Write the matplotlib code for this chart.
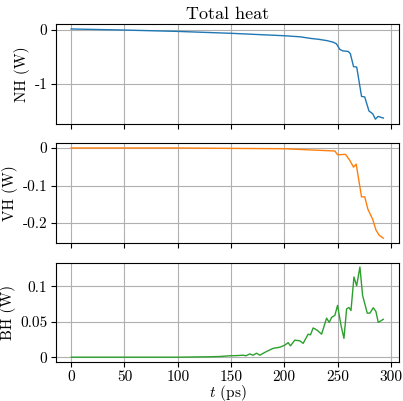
import matplotlib
matplotlib.use('Agg')
import matplotlib.pyplot as plt
from matplotlib.ticker import FuncFormatter

# LaTeX-like look
plt.rcParams['font.family'] = 'serif'
plt.rcParams['font.serif'] = ['cmr10']
plt.rcParams['mathtext.fontset'] = 'cm'
plt.rcParams['axes.unicode_minus'] = False
plt.rcParams['font.size'] = 11

# NH total heat (W)
t_nh = [0, 50, 100, 150, 200, 215, 225, 232, 240, 246, 249, 252, 255, 260, 262,
        265, 268, 272.5, 275.5, 279.5, 283, 285.5, 288, 293]
nh = [0.015, -0.005, -0.03, -0.065, -0.11, -0.13, -0.16, -0.175, -0.20, -0.23, -0.26,
      -0.36, -0.39, -0.40, -0.44, -0.68, -0.69, -1.23, -1.24, -1.50, -1.55, -1.65,
      -1.60, -1.63]

# VH total heat (W)
t_vh = [0, 100, 200, 247.5, 250, 257.5, 261.5, 265, 267.5, 272.5, 275.5, 278.5,
        283, 286, 289, 293]
vh = [0.0, 0.0, -0.002, -0.008, -0.018, -0.017, -0.033, -0.051, -0.043, -0.13,
      -0.13, -0.163, -0.19, -0.218, -0.232, -0.24]

# BH total heat (W)
t_bh = [0, 50, 100, 110, 120, 130, 140, 148.8, 155, 161.4, 164, 167.6, 170.8, 173.9,
        177, 183.3, 189.6, 195.8, 200.5, 203.6, 205.8, 209.9, 214.6, 217.7, 222.4,
        224.6, 227.1, 230.9, 235, 239.7, 242.2, 244.4, 247.5, 250, 253.2, 256, 258.5,
        260.7, 262.6, 265.4, 267.9, 271, 273.5, 277.9, 280.4, 283.5, 286, 288.2, 292.9]
bh = [0.0, 0.0, 0.0, 0.0002, 0.0004, 0.0006, 0.001, 0.002, 0.0022, 0.0028, 0.002,
      0.0046, 0.0028, 0.0056, 0.0028, 0.008, 0.0125, 0.014, 0.017, 0.0205, 0.016,
      0.0241, 0.023, 0.0195, 0.0324, 0.0315, 0.0412, 0.038, 0.0324, 0.055, 0.049,
      0.056, 0.059, 0.073, 0.045, 0.0265, 0.068, 0.070, 0.0657, 0.113, 0.1005, 0.127,
      0.087, 0.062, 0.0621, 0.0696, 0.0644, 0.049, 0.0533]

fig, axes = plt.subplots(3, 1, sharex=True, figsize=(4.03, 4.01), dpi=100)
fig.subplots_adjust(left=0.138, right=0.990, top=0.939, bottom=0.098, hspace=0.2)

fmt = FuncFormatter(lambda v, p: '%g' % v)

axes[0].plot(t_nh, nh, color='tab:blue', linewidth=1)
axes[0].set_ylabel('NH (W)', labelpad=3)
axes[0].set_title('Total heat', fontsize=13, pad=4)
axes[0].set_yticks([-1, 0])

axes[1].plot(t_vh, vh, color='tab:orange', linewidth=1)
axes[1].set_ylabel('VH (W)', labelpad=3)
axes[1].set_yticks([-0.2, -0.1, 0])

axes[2].plot(t_bh, bh, color='tab:green', linewidth=1)
axes[2].set_ylabel('BH (W)', labelpad=3)
axes[2].set_yticks([0, 0.05, 0.1])
axes[2].set_xlabel('$t$ (ps)', labelpad=-0.5)
axes[2].set_xticks([0, 50, 100, 150, 200, 250, 300])

for ax in axes:
    ax.grid(True)
    ax.tick_params(pad=2.5)
    ax.yaxis.set_major_formatter(fmt)
    ax.xaxis.set_major_formatter(fmt)

fig.savefig('out.png', dpi=100)
